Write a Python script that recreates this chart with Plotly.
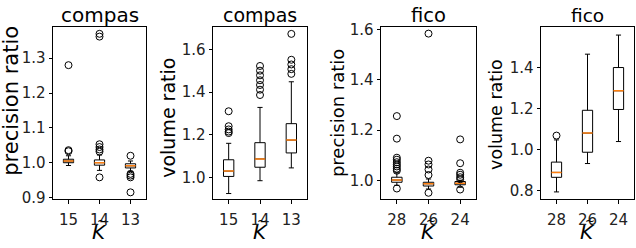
import plotly.graph_objects as go

# ---------------- data ----------------
K_compas = ["15", "14", "13"]
K_fico = ["28", "26", "24"]

compas_prec_q1 = [1.000, 0.993, 0.985]
compas_prec_med = [1.005, 1.000, 0.991]
compas_prec_q3 = [1.010, 1.008, 0.997]
compas_prec_lo = [0.992, 0.978, 0.975]
compas_prec_hi = [1.020, 1.022, 1.005]
compas_prec_out = [[1.280, 1.036, 1.033],
                   [1.370, 1.362, 1.053, 1.045, 1.038, 1.032, 0.958],
                   [1.020, 0.968, 0.963, 0.958, 0.915]]

compas_vol_q1 = [1.005, 1.048, 1.115]
compas_vol_med = [1.030, 1.087, 1.175]
compas_vol_q3 = [1.083, 1.163, 1.252]
compas_vol_lo = [0.925, 0.985, 1.045]
compas_vol_hi = [1.160, 1.328, 1.448]
compas_vol_out = [[1.310, 1.240, 1.225, 1.215, 1.208],
                  [1.522, 1.500, 1.478, 1.455, 1.433, 1.411, 1.386],
                  [1.672, 1.551, 1.529, 1.507, 1.485]]

fico_prec_q1 = [0.992, 0.977, 0.982]
fico_prec_med = [1.001, 0.986, 0.988]
fico_prec_q3 = [1.012, 0.992, 0.995]
fico_prec_lo = [0.980, 0.965, 0.972]
fico_prec_hi = [1.030, 1.005, 1.000]
fico_prec_out = [[1.256, 1.166, 1.090, 1.082, 1.072, 1.063, 1.055, 1.046, 1.038, 0.967],
                 [1.585, 1.078, 1.063, 1.043, 1.021, 0.950],
                 [1.163, 1.068, 1.030, 1.022, 1.012, 1.004, 0.963]]

fico_vol_q1 = [0.866, 0.988, 1.196]
fico_vol_med = [0.890, 1.081, 1.287]
fico_vol_q3 = [0.940, 1.192, 1.400]
fico_vol_lo = [0.795, 0.933, 1.040]
fico_vol_hi = [1.048, 1.465, 1.558]
fico_vol_out = [[1.069], [], []]

panels = [
    dict(title="compas", ylabel="precision ratio", K=K_compas,
         q1=compas_prec_q1, med=compas_prec_med, q3=compas_prec_q3,
         lo=compas_prec_lo, hi=compas_prec_hi, out=compas_prec_out,
         yrange=[0.895, 1.39], ticks=[0.9, 1.0, 1.1, 1.2, 1.3]),
    dict(title="compas", ylabel="volume ratio", K=K_compas,
         q1=compas_vol_q1, med=compas_vol_med, q3=compas_vol_q3,
         lo=compas_vol_lo, hi=compas_vol_hi, out=compas_vol_out,
         yrange=[0.898, 1.705], ticks=[1.0, 1.2, 1.4, 1.6]),
    dict(title="fico", ylabel="precision ratio", K=K_fico,
         q1=fico_prec_q1, med=fico_prec_med, q3=fico_prec_q3,
         lo=fico_prec_lo, hi=fico_prec_hi, out=fico_prec_out,
         yrange=[0.924, 1.612], ticks=[1.0, 1.2, 1.4, 1.6]),
    dict(title="fico", ylabel="volume ratio", K=K_fico,
         q1=fico_vol_q1, med=fico_vol_med, q3=fico_vol_q3,
         lo=fico_vol_lo, hi=fico_vol_hi, out=fico_vol_out,
         yrange=[0.759, 1.598], ticks=[0.8, 1.0, 1.2, 1.4]),
]

# ---------------- layout geometry (pixels) ----------------
W, H = 636, 248
x_px = [(53, 146), (213, 307), (381, 476), (541, 634)]
y_px = (22, 204)
ylabel_x = [11, 168, 337, 496]
ylabel_y = [100, 118, 113, 115]
ylabel_size = [21, 19, 18, 17.5]
title_size = [20, 19, 19.5, 18.5]
BOX_W = 0.33
FONT = "DejaVu Sans"

fig = go.Figure()
annotations = []
layout = {}

for i, p in enumerate(panels):
    n = i + 1
    xa = "x" if n == 1 else f"x{n}"
    ya = "y" if n == 1 else f"y{n}"
    pos = list(range(1, len(p["K"]) + 1))

    fig.add_trace(go.Box(
        x=pos, q1=p["q1"], median=p["med"], q3=p["q3"],
        lowerfence=p["lo"], upperfence=p["hi"],
        width=BOX_W, whiskerwidth=0.5, boxpoints=False,
        line=dict(color="black", width=1), fillcolor="white",
        xaxis=xa, yaxis=ya, showlegend=False, hoverinfo="skip"))

    # median lines (orange)
    mx, my = [], []
    for xp, m in zip(pos, p["med"]):
        mx += [xp - BOX_W / 2, xp + BOX_W / 2, None]
        my += [m, m, None]
    fig.add_trace(go.Scatter(x=mx, y=my, mode="lines",
                             line=dict(color="#ff7f0e", width=1.5),
                             xaxis=xa, yaxis=ya, showlegend=False, hoverinfo="skip"))

    # fliers
    ox, oy = [], []
    for xp, vals in zip(pos, p["out"]):
        ox += [xp] * len(vals)
        oy += vals
    fig.add_trace(go.Scatter(x=ox, y=oy, mode="markers",
                             marker=dict(symbol="circle-open", size=7, color="black",
                                         line=dict(width=1, color="black")),
                             xaxis=xa, yaxis=ya, showlegend=False, hoverinfo="skip"))

    x0, x1 = x_px[i]
    dom_x = [x0 / W, x1 / W]
    dom_y = [1 - y_px[1] / H, 1 - y_px[0] / H]
    axis_common = dict(showline=True, linecolor="black", linewidth=1, mirror=True,
                       ticks="outside", ticklen=3.5, tickwidth=1, tickcolor="black",
                       showgrid=False, zeroline=False,
                       tickfont=dict(family=FONT, size=15, color="#222"))
    layout[f"xaxis{'' if n == 1 else n}"] = dict(
        domain=dom_x, range=[0.5, 3.5], tickvals=pos, ticktext=p["K"],
        anchor=ya, ticklabelstandoff=3, **axis_common)
    layout[f"yaxis{'' if n == 1 else n}"] = dict(
        domain=dom_y, range=p["yrange"], tickvals=p["ticks"],
        ticktext=[f"{t:.1f}" for t in p["ticks"]], anchor=xa, **axis_common)

    cx_px = (x0 + x1) / 2
    cx = cx_px / W
    annotations.append(dict(text=p["title"], x=cx, y=1 - 10 / H, xref="paper", yref="paper",
                            showarrow=False, xanchor="center", yanchor="middle",
                            font=dict(family=FONT, size=title_size[i], color="black")))
    annotations.append(dict(text=p["ylabel"], x=ylabel_x[i] / W, y=1 - ylabel_y[i] / H,
                            xref="paper", yref="paper", showarrow=False, textangle=-90,
                            xanchor="center", yanchor="middle",
                            font=dict(family=FONT, size=ylabel_size[i], color="black")))
    # x label: italic K with a tilde accent above
    annotations.append(dict(text="<i>K</i>", x=cx, y=1 - 239 / H, xref="paper", yref="paper",
                            showarrow=False, xanchor="center", yanchor="middle",
                            font=dict(family=FONT, size=20, color="black")))
    annotations.append(dict(text="~", x=(cx_px + 2) / W, y=1 - 227 / H, xref="paper", yref="paper",
                            showarrow=False, xanchor="center", yanchor="middle",
                            font=dict(family=FONT, size=12, color="black")))

fig.update_layout(width=W, height=H, margin=dict(l=0, r=0, t=0, b=0),
                  paper_bgcolor="white", plot_bgcolor="white",
                  annotations=annotations, **layout)

fig.write_html("out.html", config={"displayModeBar": False},
               post_script="document.body.style.margin='0';document.body.style.padding='0';"
                           "document.body.style.overflow='hidden';")
